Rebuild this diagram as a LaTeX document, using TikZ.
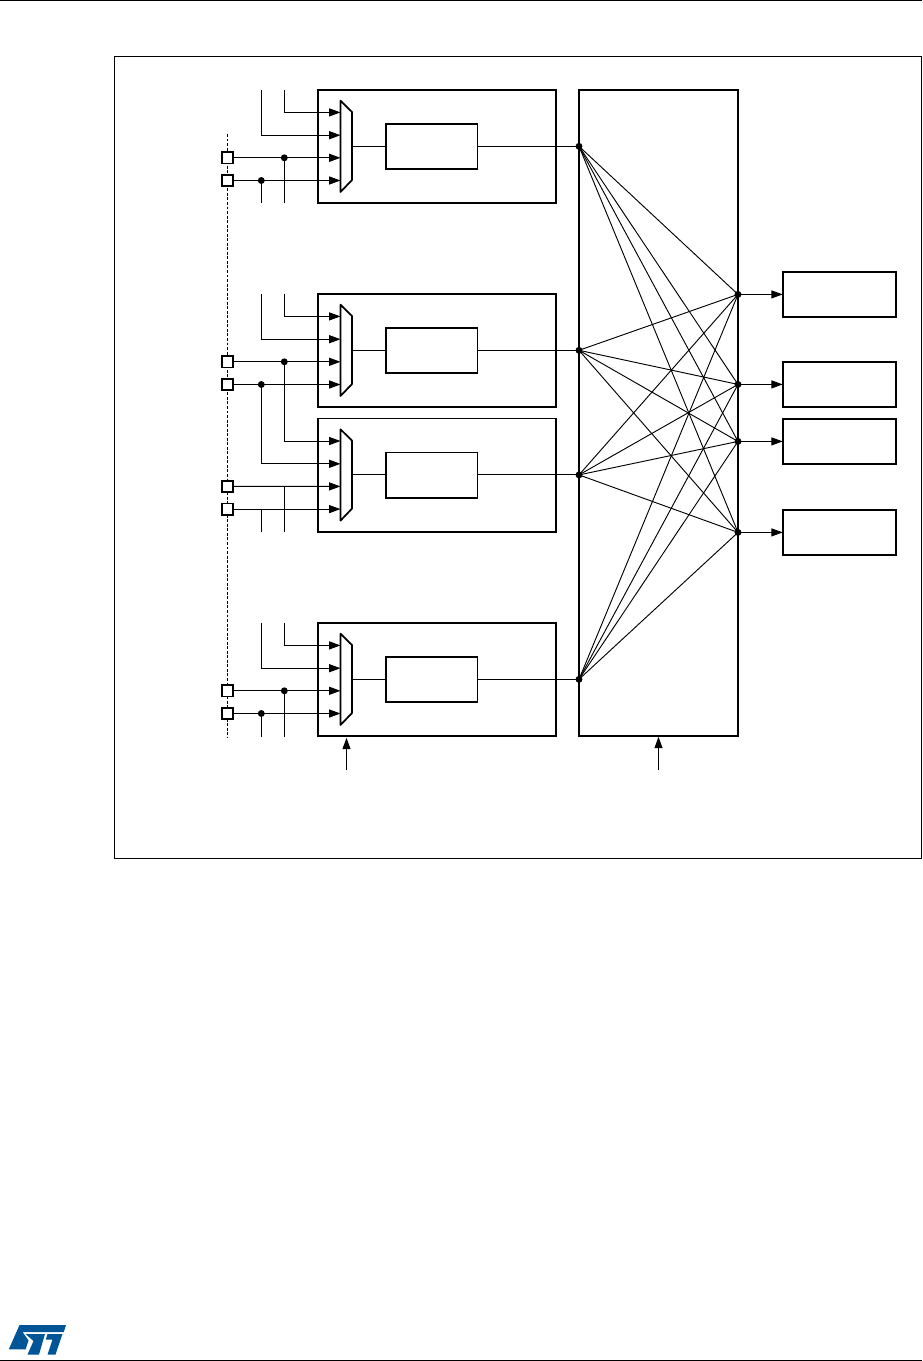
\documentclass[tikz,border=0pt]{standalone}
\usepackage{xcolor}
\definecolor{stblue}{RGB}{0,85,150}
\usetikzlibrary{arrows.meta, positioning}
\tikzset{
  wire/.style={line width=0.75pt, line cap=butt},
  link/.style={wire, -{Triangle[length=8.5pt,width=6pt]}},
  chanbox/.style={draw, line width=1.3pt, minimum width=178.5pt, minimum height=85pt, inner sep=0pt, outer sep=0pt},
  corebox/.style={draw, line width=1.3pt, minimum width=68.5pt, minimum height=34pt, inner sep=0pt, outer sep=0pt},
  destbox/.style={draw, line width=1.3pt, minimum width=85pt, minimum height=34pt, inner sep=0pt, outer sep=0pt},
  padbox/.style={draw, fill=white, line width=1.3pt, minimum size=8.6pt, inner sep=0pt, outer sep=0pt},
  dot/.style={circle, fill=black, minimum size=5.2pt, inner sep=0pt, outer sep=0pt},
  tap/.style={inner sep=0pt, outer sep=0pt, minimum size=0pt}
}
\begin{document}
\begin{tikzpicture}[x=0.75pt, y=-0.75pt]
  \useasboundingbox (0,0) rectangle (922,1361);

  % Page rules and outer frame
  \coordinate (ruleTL) at (0,0.6);
  \coordinate (ruleTR) at (922,0.6);
  \coordinate (ruleBL) at (0,1360.2);
  \coordinate (ruleBR) at (922,1360.2);
  \draw[line width=0.8pt] (ruleTL) -- (ruleTR);
  \draw[line width=0.8pt] (ruleBL) -- (ruleBR);
  \node[draw, line width=0.8pt, minimum width=605pt, minimum height=601.5pt, inner sep=0pt, outer sep=0pt] (frame) at (517.75,457.5) {};

  % Dashed pin column
  \coordinate (pinTop) at (227.5,134);
  \coordinate (pinBot) at (227.5,738);
  \draw[line width=0.6pt, dash pattern=on 2.2pt off 1.2pt] (pinTop) -- (pinBot);

  % Channel blocks: frame, input mux, core, output
  \foreach \n/\t in {1/90,2/294,3/418.6,4/623}{
    \node[chanbox] (chan\n) at (437,\t+56.6) {};
    \node[corebox] (core\n) at (431.7,\t+56.6) {};
    \draw[line width=1.3pt, fill=white, line join=round]
      (340.5,\t+10.7) -- (352,\t+22) -- (352,\t+90) -- (340.5,\t+102) -- cycle;
    \coordinate (muxout\n) at (352,\t+56.3);
    \coordinate (muxA\n) at (340.5,\t+22.4);
    \coordinate (muxB\n) at (340.5,\t+45.2);
    \coordinate (muxC\n) at (340.5,\t+67.8);
    \coordinate (muxD\n) at (340.5,\t+90.5);
    \coordinate (railA\n) at (284.3,\t+22.4);
    \coordinate (railB\n) at (261.3,\t+45.2);
    \node[tap] (in\n) at (579,\t+56.3) {};
    \draw[wire] (muxout\n) -- (core\n.west |- muxout\n);
    \draw[wire] (core\n.east |- in\n) -- (in\n);
    \draw[link] (railA\n) -- (muxA\n);
    \draw[link] (railB\n) -- (muxB\n);
  }

  % Switch matrix and destination blocks
  \node[draw, line width=1.5pt, minimum width=119pt, minimum height=484.5pt, inner sep=0pt, outer sep=0pt] (matrix) at (658.5,413) {};
  \foreach \o/\y in {1/294.4,2/384.4,3/441.4,4/532.4}{
    \node[tap] (out\o) at (738,\y) {};
    \node[destbox] (dest\o) at (839.4,\y) {};
    \draw[link] (out\o) -- (dest\o);
  }
  \foreach \n in {1,2,3,4}{
    \foreach \o in {1,2,3,4}{
      \draw[wire, line width=0.7pt] (in\n) -- (out\o);
    }
    \node[dot] at (in\n) {};
    \node[dot] at (out\n) {};
  }

  % Pins of block 1
  \node[padbox] (pad1c) at (227.5,157.8) {};
  \node[padbox] (pad1d) at (227.5,180.5) {};
  \coordinate (top1a) at (284.3,90);
  \coordinate (top1b) at (261.3,90);
  \node[dot] (jun1c) at (284.3,157.8) {};
  \node[dot] (jun1d) at (261.3,180.5) {};
  \coordinate (end1c) at (284.3,203);
  \coordinate (end1d) at (261.3,203);
  \draw[link] (pad1c) -- (muxC1);
  \draw[link] (pad1d) -- (muxD1);
  \draw[wire] (top1a) -- (railA1);
  \draw[wire] (top1b) -- (railB1);
  \draw[wire] (jun1c) -- (end1c);
  \draw[wire] (jun1d) -- (end1d);

  % Pins of blocks 2 and 3
  \node[padbox] (pad2c) at (227.5,361.8) {};
  \node[padbox] (pad2d) at (227.5,384.5) {};
  \coordinate (top2a) at (284.3,294);
  \coordinate (top2b) at (261.3,294);
  \node[dot] (jun2c) at (284.3,361.8) {};
  \node[dot] (jun2d) at (261.3,384.5) {};
  \draw[link] (pad2c) -- (muxC2);
  \draw[link] (pad2d) -- (muxD2);
  \draw[wire] (top2a) -- (railA2);
  \draw[wire] (top2b) -- (railB2);
  \draw[wire] (jun2c) -- (railA3);
  \draw[wire] (jun2d) -- (railB3);
  \node[padbox] (pad3c) at (227.5,486.4) {};
  \node[padbox] (pad3d) at (227.5,509.1) {};
  \coordinate (tee3c) at (284.3,486.4);
  \coordinate (tee3d) at (261.3,509.1);
  \coordinate (end3c) at (284.3,532);
  \coordinate (end3d) at (261.3,532);
  \draw[link] (pad3c) -- (muxC3);
  \draw[link] (pad3d) -- (muxD3);
  \draw[wire] (tee3c) -- (end3c);
  \draw[wire] (tee3d) -- (end3d);

  % Pins of block 4
  \node[padbox] (pad4c) at (227.5,690.8) {};
  \node[padbox] (pad4d) at (227.5,713.5) {};
  \coordinate (top4a) at (284.3,623);
  \coordinate (top4b) at (261.3,623);
  \node[dot] (jun4c) at (284.3,690.8) {};
  \node[dot] (jun4d) at (261.3,713.5) {};
  \coordinate (end4c) at (284.3,736.6);
  \coordinate (end4d) at (261.3,736.6);
  \draw[link] (pad4c) -- (muxC4);
  \draw[link] (pad4d) -- (muxD4);
  \draw[wire] (top4a) -- (railA4);
  \draw[wire] (top4b) -- (railB4);
  \draw[wire] (jun4c) -- (end4c);
  \draw[wire] (jun4d) -- (end4d);

  % Arrows under the blocks
  \coordinate (ctrlA) at (346.5,770);
  \coordinate (ctrlB) at (658.5,770);
  \coordinate (ctrlAend) at (346.5,737.8);
  \coordinate (ctrlBend) at (658.5,736.8);
  \draw[link] (ctrlA) -- (ctrlAend);
  \draw[link] (ctrlB) -- (ctrlBend);

  % Logo
  \fill[stblue] (19.5,1325) -- (66,1325) -- (63.8,1332) -- (22.5,1332) -- (28.5,1340.3)
    -- (25.7,1349.3) -- (8.8,1349.3) -- cycle;
  \fill[stblue] (25.5,1334) -- (45,1334) -- (39,1354.5) -- (27.5,1354.5) -- (33.5,1341) -- cycle;
  \fill[stblue] (47.5,1334) -- (62.5,1334) -- (55.5,1354.5) -- (47.5,1354.5) -- (52.5,1339.5) -- (45.8,1339.5) -- cycle;
\end{tikzpicture}
\end{document}
